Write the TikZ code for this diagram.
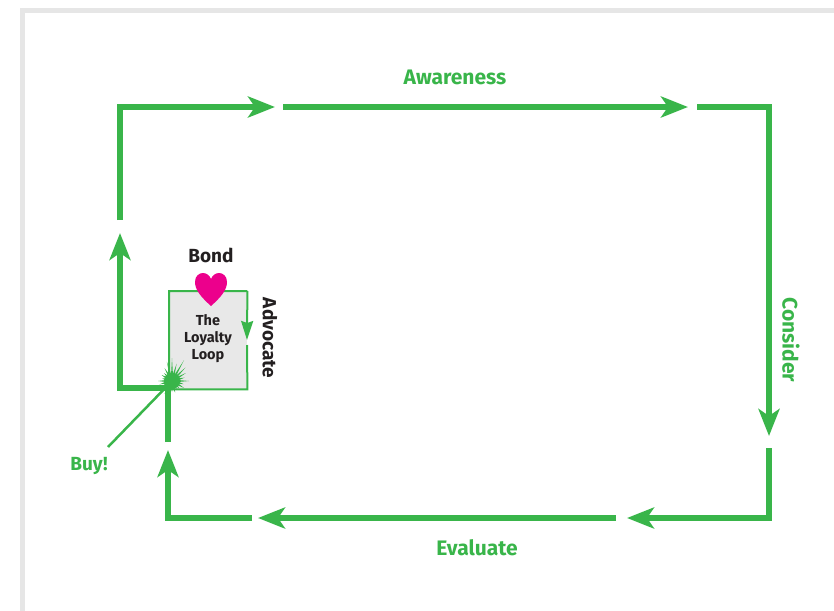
\documentclass[tikz,border=0pt]{standalone}
\usepackage{fontspec}
\setmainfont{Fira Sans}
\usetikzlibrary{arrows.meta,calc}
\definecolor{lgreen}{RGB}{57,181,74}
\definecolor{hpink}{RGB}{236,0,140}
\definecolor{framegray}{RGB}{230,230,230}
\definecolor{boxgray}{RGB}{232,232,232}
\definecolor{ink}{RGB}{35,31,32}
\begin{document}
\begin{tikzpicture}[x=1pt,y=-1pt,
  flow/.style={draw=lgreen, line width=5.5pt, line join=miter, -{Stealth[length=27pt,width=21pt,inset=7pt]}},
  seg/.style={draw=lgreen, line width=5.5pt},
  glabel/.style={font=\bfseries\fontsize{21}{23}\selectfont, text=lgreen, inner sep=0pt},
  klabel/.style={font=\bfseries\fontsize{19}{21}\selectfont, text=ink, inner sep=0pt},
  thinline/.style={draw=lgreen, line width=2pt}]
\useasboundingbox (0,0) rectangle (834,610);
% frame
\draw[framegray, line width=5pt] (22.5,615) -- (22.5,10.5) -- (840,10.5);
% coordinates of the loop
\coordinate (meet) at (168,388);
\coordinate (lb) at (120,388);
\coordinate (lt1) at (120,233);
\coordinate (lt2) at (120,220);
\coordinate (tl) at (120,107);
\coordinate (ta1) at (275,107);
\coordinate (ta2) at (283,107);
\coordinate (ta3) at (688,107);
\coordinate (ta4) at (697,107);
\coordinate (tr) at (769,107);
\coordinate (ra1) at (769,436);
\coordinate (ra2) at (769,448);
\coordinate (br) at (769,518);
\coordinate (ba1) at (627,518);
\coordinate (ba2) at (616,518);
\coordinate (ba3) at (258,518);
\coordinate (ba4) at (252,518);
\coordinate (bl) at (168,518);
\coordinate (la1) at (168,450);
\coordinate (la2) at (168,442);
% inner box
\node[fill=boxgray, minimum width=78pt, minimum height=98pt, anchor=north west, inner sep=0pt] (box) at (169,291) {};
\coordinate (boxtip) at (247,340);
\coordinate (boxgap) at (247,345);
\draw[thinline] (boxgap) -- (box.south east) -- (box.south west) -- (box.north west) -- (box.north east);
\draw[thinline, -{Stealth[length=19pt,width=12pt,inset=2pt]}] (box.north east) -- (boxtip);
\node[font=\bfseries\fontsize{14.5}{17}\selectfont, text=ink, align=center, inner sep=0pt] (loop) at (208,339) {The\\Loyalty\\Loop};
% main loop
\draw[flow] (meet) -- (lb) -- (lt1);
\draw[flow] (lt2) -- (tl) -- (ta1);
\draw[flow] (ta2) -- (ta3);
\draw[flow] (ta4) -- (tr) -- (ra1);
\draw[flow] (ra2) -- (br) -- (ba1);
\draw[flow] (ba2) -- (ba3);
\draw[flow] (ba4) -- (bl) -- (la1);
\draw[seg] (la2) -- (meet);
% burst
\coordinate (burst) at (172,381);
\coordinate (buyend) at (108,447);
\draw[lgreen, line width=2.5pt] (buyend) -- (burst);
\begin{scope}[shift={(burst)}]
\fill[lgreen] (0:17) \foreach \a/\r in {15/12,30/14,45/10,60/9,75/12,90/11,105/10,120/15,135/21,150/18,165/13,180/14,195/10,210/12,225/11,240/15,255/20,270/23,285/18,300/24,315/19,330/16,345/13} { -- (\a-7.5:7) -- (\a:\r) } -- (352.5:7) -- cycle;
\fill[lgreen] (0,0) circle (8);
\end{scope}
% heart
\coordinate (heart) at (211,289);
\fill[hpink] (211,306) .. controls (201,297) and (195,290) .. (195,282) .. controls (195,276) and (199,273) .. (203,273) .. controls (207,273) and (210,276) .. (211,279) .. controls (212,276) and (215,273) .. (219,273) .. controls (223,273) and (227,276) .. (227,282) .. controls (227,290) and (221,297) .. (211,306) -- cycle;
% labels
\node[glabel] (aware) at (455,77) {Awareness};
\node[glabel, rotate=-90] (consider) at (791,340) {Consider};
\node[glabel] (evaluate) at (477,548) {Evaluate};
\node[glabel, font=\bfseries\fontsize{19}{21}\selectfont] (buy) at (89,466) {Buy!};
\node[klabel] (bond) at (211,255) {Bond};
\node[klabel, rotate=-90] (advocate) at (270,338) {Advocate};
\end{tikzpicture}
\end{document}
